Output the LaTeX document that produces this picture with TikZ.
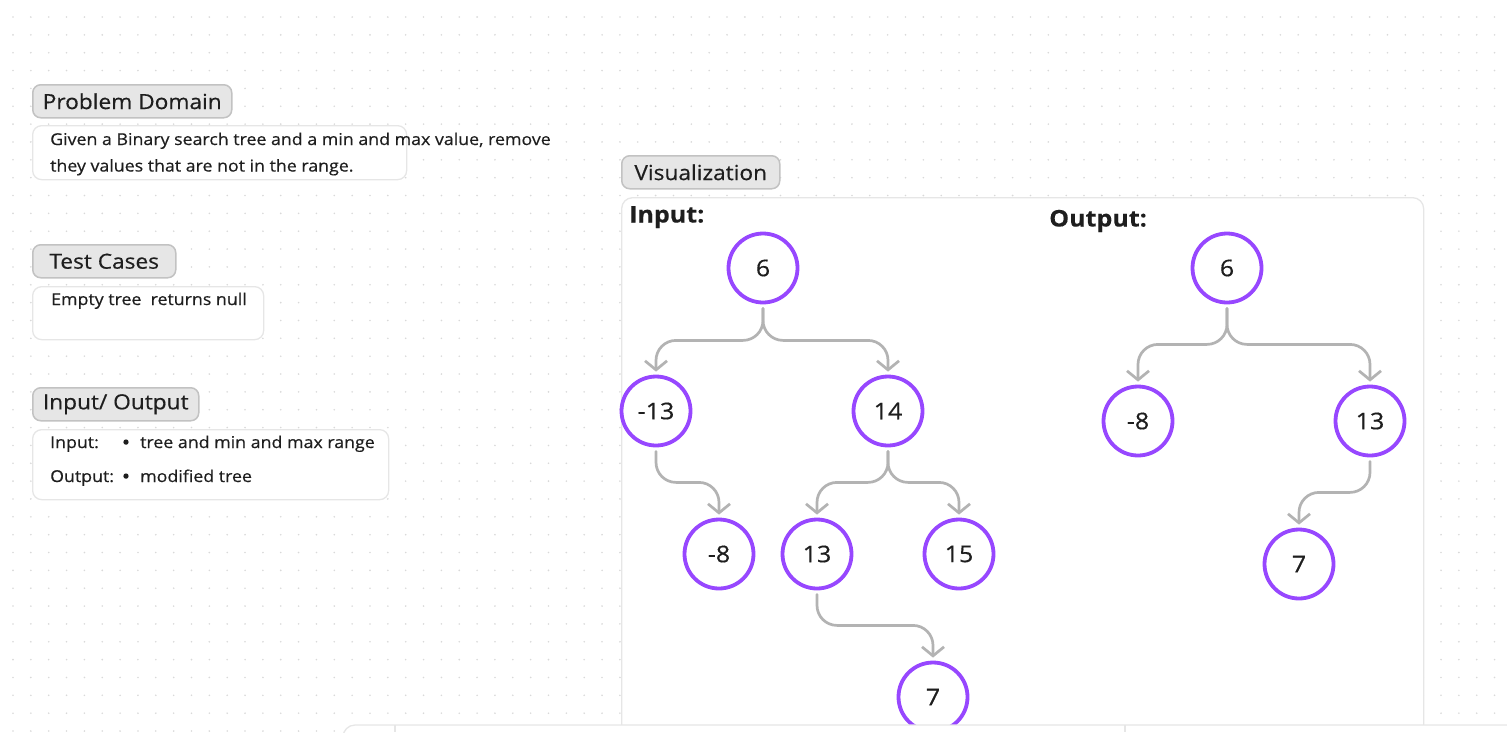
\documentclass[tikz,border=0pt]{standalone}
\usepackage{fontspec}
\setmainfont{Open Sans}[FakeStretch=1.09, UprightFeatures={FakeBold=0.45}, BoldFeatures={FakeBold=0.2}]
\usetikzlibrary{arrows.meta, positioning}

\definecolor{treepurple}{HTML}{9747FF}
\definecolor{linkgray}{HTML}{B3B3B3}
\definecolor{inkdark}{HTML}{1E1E1E}
\definecolor{headfill}{HTML}{E6E6E6}
\definecolor{headline}{HTML}{C2C2C2}
\definecolor{panelline}{HTML}{E6E6E6}
\definecolor{dotgray}{HTML}{D9D9D9}

\begin{document}
\begin{tikzpicture}[
        x=1pt, y=-1pt,
        heading/.style={rectangle, rounded corners=8pt, draw=headline, line width=1.5pt, fill=headfill, text=inkdark, anchor=north west, minimum height=33pt, inner sep=0pt, font=\fontsize{20.8}{23}\selectfont},
        panel/.style={rectangle, rounded corners=9pt, draw=panelline, line width=1.3pt, fill=white, anchor=north west, inner sep=0pt},
        bodytext/.style={anchor=base west, inner sep=0pt, text=inkdark, font=\fontsize{16.3}{20}\selectfont},
        bulletmark/.style={anchor=base, inner sep=0pt, text=inkdark, font=\fontsize{16.3}{20}\selectfont\bfseries},
        boldlabel/.style={anchor=base west, inner sep=0pt, text=inkdark, font=\fontsize{23}{26}\selectfont\bfseries},
        treenode/.style={circle, draw=treepurple, line width=3.8pt, fill=white, minimum size=69pt, inner sep=0pt, text=inkdark, font=\fontsize{23}{26}\selectfont},
        link/.style={draw=linkgray, line width=2.7pt, rounded corners=20pt, line cap=round, line join=round, shorten <=4pt, shorten >=3pt, -{Straight Barb[length=9pt, width=22pt]}},
    ]
        \useasboundingbox (0,0) rectangle (1507,732);
        \clip (0,0) rectangle (1507,732);

        % dotted canvas
        \foreach \i in {0,...,84}
            \foreach \j in {0,...,40}
                \fill[dotgray] (13+17.85*\i, 17+17.85*\j) circle (0.9pt);

        % left column
        \node[heading, minimum width=199pt] (domainhead) at (32,84) {Problem Domain};
        \node[panel, minimum width=374pt, minimum height=54pt] (domainbox) at (32,125) {};
        \node[bodytext] (domainline1) at (50,145) {Given a Binary search tree and a min and max value, remove};
        \node[bodytext] (domainline2) at (50,171.5) {they values that are not in the range.};

        \node[heading, minimum width=143pt] (testhead) at (32,244) {Test Cases};
        \node[panel, minimum width=231pt, minimum height=53pt] (testbox) at (32,286) {};
        \node[bodytext] (testline) at (51,305) {Empty tree\ \ returns null};

        \node[heading, minimum width=166pt] (iohead) at (32,387) {Input/ Output};
        \node[panel, minimum width=356pt, minimum height=70pt] (iobox) at (32,429) {};
        \node[bodytext] (inlabel) at (50,448) {Input:};
        \node[bulletmark] (inbullet) at (126,448) {•};
        \node[bodytext] (intext) at (140,448) {tree and min and max range};
        \node[bodytext] (outlabel) at (50,482) {Output:};
        \node[bulletmark] (outbullet) at (126,482) {•};
        \node[bodytext] (outtext) at (140,482) {modified tree};

        % visualization frame
        \node[heading, minimum width=158pt] (vishead) at (621,155) {Visualization};
        \node[panel, rounded corners=11pt, minimum width=802pt, minimum height=580pt] (visframe) at (621,197) {};
        \node[boldlabel] (inputlabel) at (629,222.5) {Input:};
        \node[boldlabel] (outputlabel) at (1049,226.5) {Output:};

        % input tree
        \node[treenode] (in6) at (763,268) {6};
        \node[treenode] (inm13) at (656,411) {-13};
        \node[treenode] (in14) at (888,411) {14};
        \node[treenode] (inm8) at (719,554) {-8};
        \node[treenode] (in13) at (817,554) {13};
        \node[treenode] (in15) at (959,554) {15};
        \node[treenode] (in7) at (933,697) {7};

        \draw[link] (in6.south) -- ++(0,36) -| (inm13.north);
        \draw[link] (in6.south) -- ++(0,36) -| (in14.north);
        \draw[link] (inm13.south) -- ++(0,35) -| (inm8.north);
        \draw[link] (in14.south) -- ++(0,35) -| (in13.north);
        \draw[link] (in14.south) -- ++(0,35) -| (in15.north);
        \draw[link] (in13.south) -- ++(0,35) -| (in7.north);

        % output tree
        \node[treenode] (out6) at (1227,268) {6};
        \node[treenode] (outm8) at (1138,421) {-8};
        \node[treenode] (out13) at (1370,421) {13};
        \node[treenode] (out7) at (1299,564) {7};

        \draw[link] (out6.south) -- ++(0,40) -| (outm8.north);
        \draw[link] (out6.south) -- ++(0,40) -| (out13.north);
        \draw[link] (out13.south) -- ++(0,35) -| (out7.north);

        % bottom toolbar edge
        \draw[panelline, line width=1.3pt, fill=white, rounded corners=12pt] (343,725) rectangle (1540,780);
        \draw[panelline, line width=1.3pt] (395,725) -- (395,732) (1125,725) -- (1125,732);
    \end{tikzpicture}
\end{document}
